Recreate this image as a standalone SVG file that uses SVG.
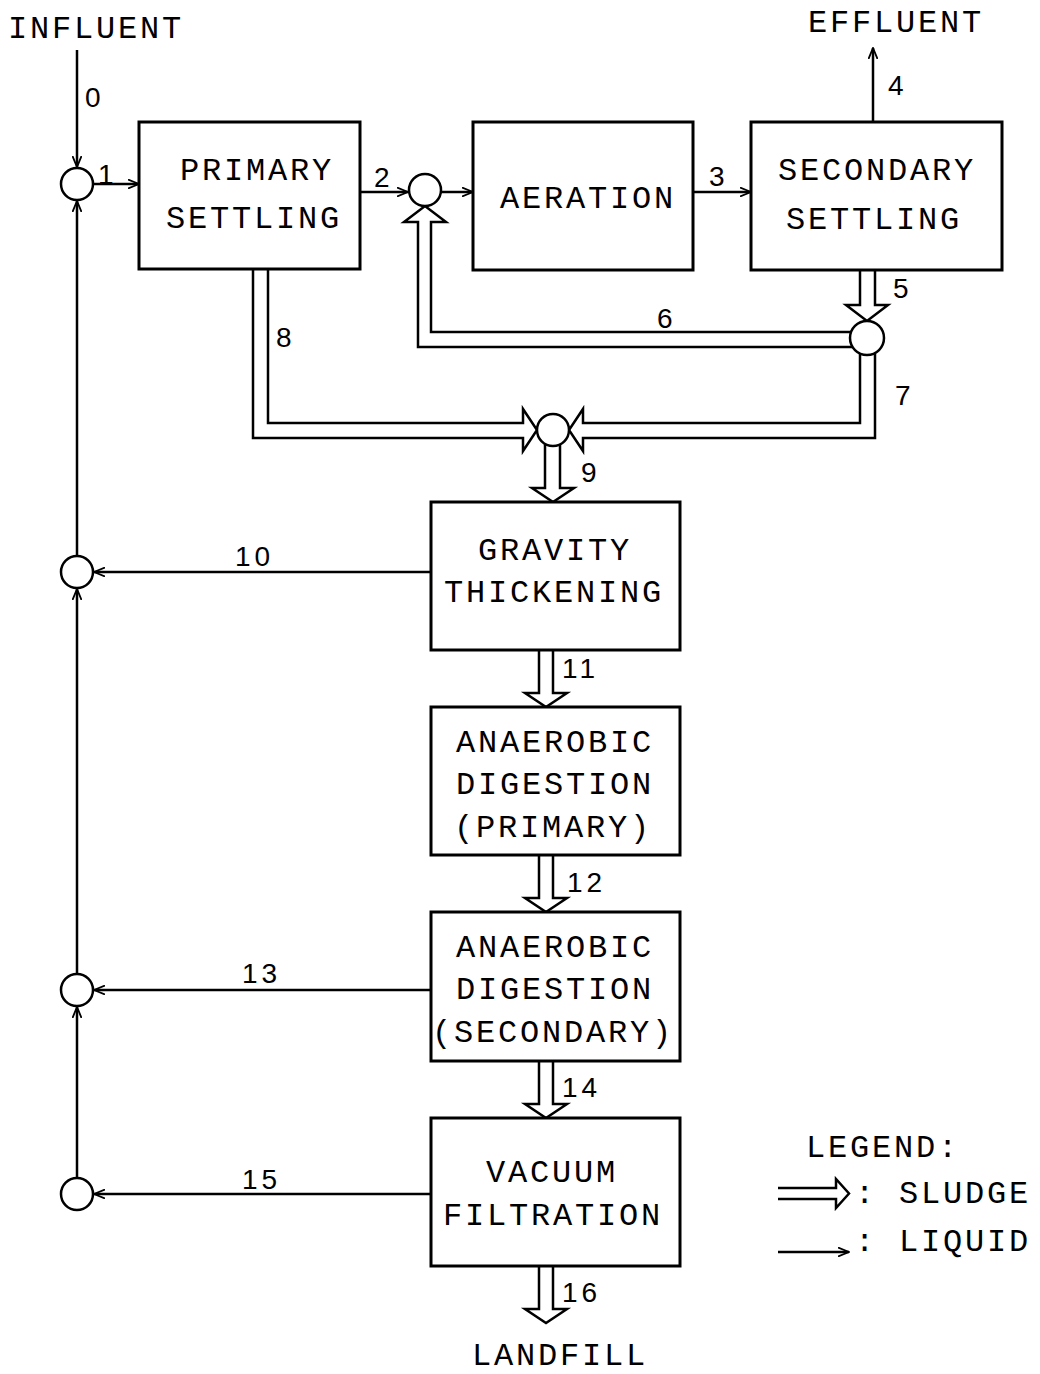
<svg xmlns="http://www.w3.org/2000/svg" width="1040" height="1374" viewBox="0 0 1040 1374">
<defs>
<marker id="ah" viewBox="0 0 12 10" refX="11" refY="5" markerWidth="12" markerHeight="10" markerUnits="userSpaceOnUse" orient="auto">
<path d="M0,0.5 L11,5 L0,9.5" fill="none" stroke="#000" stroke-width="1.8"/>
</marker>
</defs>
<style>
.box{fill:#fff;stroke:#000;stroke-width:3}
.jn{fill:#fff;stroke:#000;stroke-width:2.5}
.liq{fill:none;stroke:#000;stroke-width:2.5;marker-end:url(#ah)}
.sl{fill:#fff;stroke:#000;stroke-width:2.5;stroke-linejoin:miter}
.t{font-family:"Liberation Mono","DejaVu Sans Mono",monospace;font-size:32px;letter-spacing:2.8px;fill:#000}
.n{font-family:"Liberation Sans","DejaVu Sans",sans-serif;font-size:28px;letter-spacing:4px;fill:#000}
</style>
<rect width="1040" height="1374" fill="#fff"/>

<g id="connectors">
<path class="liq" d="M77,50 V167"/>
<path class="liq" d="M94,184 H139"/>
<path class="liq" d="M360,192 H408"/>
<path class="liq" d="M441,192 H473"/>
<path class="liq" d="M693,192 H751"/>
<path class="liq" d="M873,122 V48"/>
<path class="liq" d="M431,572 H94"/>
<path class="liq" d="M431,990 H94"/>
<path class="liq" d="M431,1194 H94"/>
<path class="liq" d="M77,1178 V1007"/>
<path class="liq" d="M77,974 V589"/>
<path class="liq" d="M77,556 V201"/>
<path class="sl" d="M860,270 V305 H846 L867,321 L888,305 H875 V270"/>
<path class="sl" d="M851,332 H431 V222 H446 L425,206 L404,222 H418 V347 H853"/>
<path class="sl" d="M860,353 V423 H583 V409 L569,430 L583,451 V438 H875 V353"/>
<path class="sl" d="M268,269 V423 H523 V409 L537,430 L523,451 V438 H253 V269"/>
<path class="sl" d="M545,444 V488 H532 L553,502 L574,488 H560 V444"/>
<path class="sl" d="M539,650 V693 H525 L546,707 L567,693 H553 V650"/>
<path class="sl" d="M539,855 V898 H525 L546,912 L567,898 H553 V855"/>
<path class="sl" d="M539,1061 V1104 H525 L546,1118 L567,1104 H553 V1061"/>
<path class="sl" d="M539,1266 V1309 H525 L546,1323 L567,1309 H553 V1266"/>
</g>

<g id="labels">
<text class="n" x="85" y="107">0</text>
<text class="n" x="98" y="184">1</text>
<text class="n" x="374" y="187">2</text>
<text class="n" x="709" y="186">3</text>
<text class="n" x="888" y="95">4</text>
<text class="n" x="893" y="298">5</text>
<text class="n" x="657" y="328">6</text>
<text class="n" x="895" y="405">7</text>
<text class="n" x="276" y="347">8</text>
<text class="n" x="581" y="482">9</text>
<text class="n" x="235" y="566">10</text>
<text class="n" x="562" y="678">11</text>
<text class="n" x="567" y="892">12</text>
<text class="n" x="242" y="983">13</text>
<text class="n" x="562" y="1097">14</text>
<text class="n" x="242" y="1189">15</text>
<text class="n" x="562" y="1302">16</text>
<text class="t" x="8" y="38">INFLUENT</text>
<text class="t" x="808" y="32">EFFLUENT</text>
<text class="t" x="472" y="1365">LANDFILL</text>
</g>

<g id="j1"><circle class="jn" cx="77" cy="184" r="16"/></g>
<g id="j2"><circle class="jn" cx="425" cy="190" r="16"/></g>
<g id="j3"><circle class="jn" cx="867" cy="338" r="17"/></g>
<g id="j4"><circle class="jn" cx="553" cy="430" r="16"/></g>
<g id="j5"><circle class="jn" cx="77" cy="572" r="16"/></g>
<g id="j6"><circle class="jn" cx="77" cy="990" r="16"/></g>
<g id="j7"><circle class="jn" cx="77" cy="1194" r="16"/></g>

<g id="primary-settling">
<rect class="box" x="139" y="122" width="221" height="147"/>
<text class="t" x="180" y="180">PRIMARY</text>
<text class="t" x="166" y="228">SETTLING</text>
</g>
<g id="aeration">
<rect class="box" x="473" y="122" width="220" height="148"/>
<text class="t" x="500" y="208">AERATION</text>
</g>
<g id="secondary-settling">
<rect class="box" x="751" y="122" width="251" height="148"/>
<text class="t" x="778" y="180">SECONDARY</text>
<text class="t" x="786" y="229">SETTLING</text>
</g>
<g id="gravity-thickening">
<rect class="box" x="431" y="502" width="249" height="148"/>
<text class="t" x="478" y="560">GRAVITY</text>
<text class="t" x="444" y="602">THICKENING</text>
</g>
<g id="digestion-primary">
<rect class="box" x="431" y="707" width="249" height="148"/>
<text class="t" x="456" y="752">ANAEROBIC</text>
<text class="t" x="456" y="794">DIGESTION</text>
<text class="t" x="454" y="837">(PRIMARY)</text>
</g>
<g id="digestion-secondary">
<rect class="box" x="431" y="912" width="249" height="149"/>
<text class="t" x="456" y="957">ANAEROBIC</text>
<text class="t" x="456" y="999">DIGESTION</text>
<text class="t" x="432" y="1042">(SECONDARY)</text>
</g>
<g id="vacuum-filtration">
<rect class="box" x="431" y="1118" width="249" height="148"/>
<text class="t" x="486" y="1182">VACUUM</text>
<text class="t" x="443" y="1225">FILTRATION</text>
</g>

<g id="legend">
<text class="t" x="806" y="1157">LEGEND:</text>
<path class="sl" d="M778,1188 H836 V1179 L849,1193.5 L836,1208 V1199 H778" fill="none"/>
<text class="t" x="855" y="1203">: SLUDGE</text>
<path class="liq" d="M778,1252 H849"/>
<text class="t" x="855" y="1251">: LIQUID</text>
</g>
</svg>
